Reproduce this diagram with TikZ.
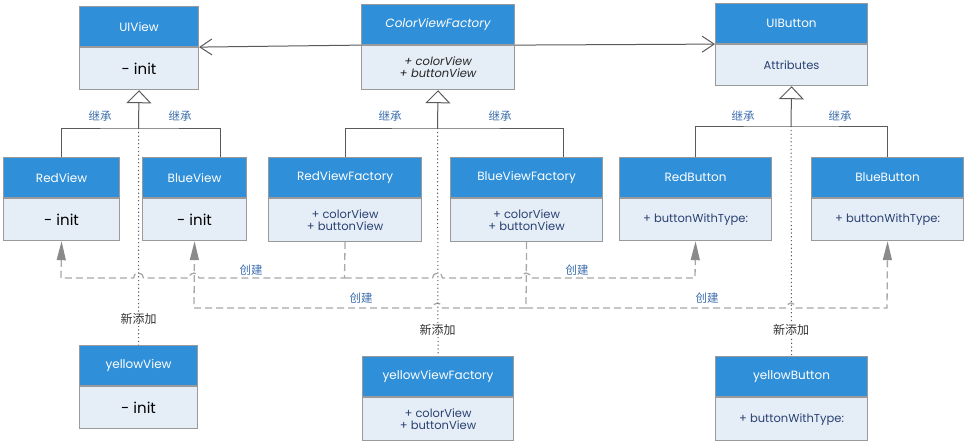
\documentclass[tikz,border=0pt]{standalone}
\usepackage{fontspec}
\setmainfont{Poppins}
\newfontfamily\cjk{Noto Sans CJK SC}
\usetikzlibrary{arrows.meta,calc}
\definecolor{hdrblue}{HTML}{2F8FD8}
\definecolor{bodyblue}{HTML}{E5EDF7}
\definecolor{framegray}{HTML}{9A9A9A}
\definecolor{txtblue}{HTML}{2A4272}
\definecolor{lblblue}{HTML}{3D6FAE}
\definecolor{dashgray}{HTML}{A8A8A8}
\definecolor{tipgray}{HTML}{8A8A8A}
\definecolor{linegray}{HTML}{5A5A5A}
\begin{document}
\begin{tikzpicture}[x=1pt,y=-1pt,
  hdr/.style={draw=framegray, line width=1.1pt, fill=hdrblue, text=white,
    font=\fontsize{12}{13}\selectfont, minimum width=#1, minimum height=40pt,
    anchor=north west, inner sep=0pt},
  bdy/.style={draw=framegray, line width=1.1pt, fill=bodyblue, text=txtblue,
    font=\fontsize{11.5}{12}\selectfont, minimum width=#1, minimum height=42pt,
    anchor=north, inner sep=0pt, align=center},
  initbody/.style={text=black, font=\fontsize{15}{16}\selectfont},
  solidline/.style={draw=linegray, line width=1pt},
  inh/.style={solidline, -{Triangle[length=13pt,width=25pt,fill=white]}},
  assoc/.style={solidline, -{Straight Barb[length=12pt,width=16pt]}},
  dotline/.style={draw=linegray, line width=1pt, dash pattern=on 1.2pt off 2.6pt},
  crt/.style={draw=dashgray, line width=1.3pt, dash pattern=on 7pt off 4pt},
  crtarrow/.style={crt, -{Triangle[length=19pt,width=9pt,color=tipgray]}},
  inhlbl/.style={text=lblblue, font=\cjk\fontsize{11.5}{12}\selectfont},
  crtlbl/.style={text=lblblue, font=\cjk\fontsize{11.5}{12}\selectfont},
  newlbl/.style={text=black!80, font=\cjk\fontsize{12}{13}\selectfont, fill=white, inner sep=1.5pt}
]
\useasboundingbox[fill=white] (0,0) rectangle (968,445);

% top row
\node[hdr=119pt] (UIViewH) at (79,6) {UIView};
\node[bdy=119pt, initbody] (UIView) at (UIViewH.south) {- init};

\node[hdr=153pt, font=\itshape\fontsize{12}{13}\selectfont] (CVFH) at (361,4) {ColorViewFactory};
\node[bdy=153pt, minimum height=44pt, text=black!85, font=\itshape\fontsize{11.5}{12}\selectfont] (CVF) at (CVFH.south) {+ colorView\\+ buttonView};

\node[hdr=152pt] (UIButtonH) at (715,3) {UIButton};
\node[bdy=152pt, minimum height=41pt] (UIButton) at (UIButtonH.south) {Attributes};

% middle row
\node[hdr=116pt] (RedViewH) at (3,157) {RedView};
\node[bdy=116pt, initbody] (RedView) at (RedViewH.south) {- init};

\node[hdr=104pt] (BlueViewH) at (142,157) {BlueView};
\node[bdy=104pt, initbody] (BlueView) at (BlueViewH.south) {- init};

\node[hdr=153pt] (RedViewFactoryH) at (268,157) {RedViewFactory};
\node[bdy=153pt, minimum height=43pt] (RedViewFactory) at (RedViewFactoryH.south) {+ colorView\\+ buttonView};

\node[hdr=152pt] (BlueViewFactoryH) at (450,157) {BlueViewFactory};
\node[bdy=152pt, minimum height=43pt] (BlueViewFactory) at (BlueViewFactoryH.south) {+ colorView\\+ buttonView};

\node[hdr=152pt] (RedButtonH) at (619,157) {RedButton};
\node[bdy=152pt] (RedButton) at (RedButtonH.south) {+ buttonWithType:};

\node[hdr=152pt] (BlueButtonH) at (811,157) {BlueButton};
\node[bdy=152pt] (BlueButton) at (BlueButtonH.south) {+ buttonWithType:};

% bottom row
\node[hdr=118pt] (yellowViewH) at (79,345) {yellowView};
\node[bdy=118pt, initbody] (yellowView) at (yellowViewH.south) {- init};

\node[hdr=151pt] (yellowViewFactoryH) at (362,356) {yellowViewFactory};
\node[bdy=151pt, minimum height=43pt] (yellowViewFactory) at (yellowViewFactoryH.south) {+ colorView\\+ buttonView};

\node[hdr=152pt] (yellowButtonH) at (715,356) {yellowButton};
\node[bdy=152pt, minimum height=43pt] (yellowButton) at (yellowButtonH.south) {+ buttonWithType:};

% associations
\draw[assoc] (CVFH.south west) -- (UIViewH.south east);
\draw[assoc] (CVFH.south east) -- (UIButtonH.south west);

% inheritance
\coordinate (uvj) at (138.5,128);
\coordinate (bvt) at (220,157);
\draw[solidline] (RedViewH.north) |- (uvj) -| (bvt);
\draw[inh] (uvj) -- (UIView.south);

\coordinate (cvj) at (437.5,128);
\coordinate (bvft) at (563,157);
\draw[solidline] (RedViewFactoryH.north) |- (cvj) -| (bvft);
\draw[inh] (cvj) -- (CVF.south);

\coordinate (ubj) at (791,126);
\draw[solidline] (RedButtonH.north) |- (ubj) -| (BlueButtonH.north);
\draw[inh] (ubj) -- (UIButton.south);

\node[inhlbl] (l1) at (100,116) {继承};
\node[inhlbl] (l2) at (180,116) {继承};
\node[inhlbl] (l3) at (390,116) {继承};
\node[inhlbl] (l4) at (500,116) {继承};
\node[inhlbl] (l5) at (743,116) {继承};
\node[inhlbl] (l6) at (840,116) {继承};

% creation (dashed)
\coordinate (a0) at (344.5,278);
\coordinate (c0) at (526,308);
\draw[crtarrow] (RedViewFactory.south) -- (a0) -- (199,278)
  arc[start angle=0,end angle=180,radius=5pt] -- (143.5,278)
  arc[start angle=0,end angle=180,radius=5pt] -- (61,278) -- (RedView.south);
\draw[crtarrow] (a0) -- (432.5,278)
  arc[start angle=180,end angle=0,radius=5pt] -- (521,278)
  arc[start angle=180,end angle=0,radius=5pt] -- (695,278) -- (RedButton.south);
\draw[crtarrow] (BlueViewFactory.south) -- (c0) -- (442.5,308)
  arc[start angle=0,end angle=180,radius=5pt] -- (194,308) -- (BlueView.south);
\draw[crtarrow] (c0) -- (786,308)
  arc[start angle=180,end angle=0,radius=5pt] -- (887,308) -- (BlueButton.south);

\node[crtlbl] (k1) at (251,270) {创建};
\node[crtlbl] (k2) at (577,270) {创建};
\node[crtlbl] (k3) at (361,298) {创建};
\node[crtlbl] (k4) at (707,298) {创建};

% new additions (dotted)
\draw[dotline] (uvj) -- (yellowViewH.north);
\draw[dotline] (cvj) -- (yellowViewFactoryH.north);
\draw[dotline] (ubj) -- (yellowButtonH.north);
\node[newlbl] (n1) at (138.5,319) {新添加};
\node[newlbl] (n2) at (437.5,330) {新添加};
\node[newlbl] (n3) at (791,330) {新添加};
\end{tikzpicture}
\end{document}
